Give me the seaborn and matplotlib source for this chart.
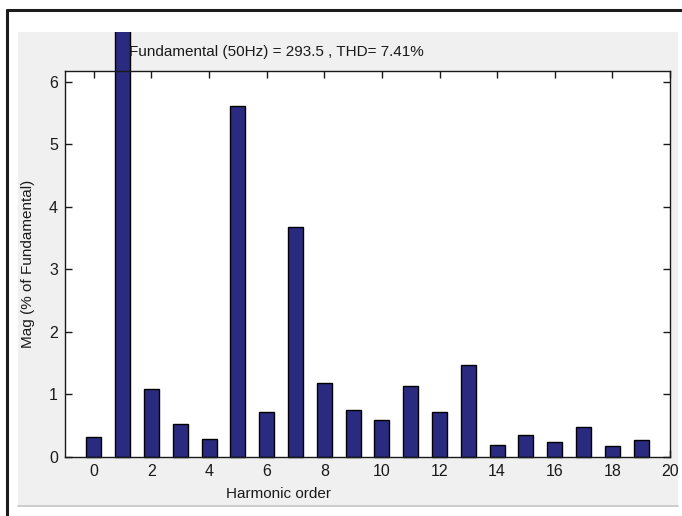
import matplotlib
matplotlib.use("Agg")
import matplotlib.pyplot as plt
from matplotlib.patches import Rectangle
from matplotlib.lines import Line2D
from matplotlib.transforms import Bbox, TransformedBbox
import seaborn as sns
import pandas as pd

# Harmonic spectrum, magnitudes in % of the fundamental
harmonic_order = list(range(20))
magnitude_pct = [0.32, 100.0, 1.08, 0.52, 0.28, 5.61, 0.71, 3.68, 1.18, 0.74,
                 0.58, 1.13, 0.71, 1.46, 0.19, 0.345, 0.24, 0.48, 0.17, 0.26]
fundamental_rms = 293.5
thd_pct = 7.41
x_ticks = list(range(0, 21, 2))
y_ticks = list(range(0, 7))

sns.set_style("white")
plt.rcParams["font.family"] = ["Liberation Sans", "DejaVu Sans"]

W, H = 682, 516
fig = plt.figure(figsize=(W / 100, H / 100), dpi=100)
fig.patch.set_facecolor("white")

def fx(px):
    return px / W

def fy(py):
    return 1 - py / H

# grey figure panel
panel = Rectangle((fx(18), fy(505)), fx(678) - fx(18), fy(32) - fy(505),
                  transform=fig.transFigure, facecolor="#EFF0EF",
                  edgecolor="none", zorder=-10)
fig.add_artist(panel)
fig.add_artist(Line2D([fx(18), fx(678)], [fy(505.5), fy(505.5)],
                      transform=fig.transFigure, color="#C4C4C4", lw=1.2,
                      zorder=-9))
# dark outer frame
fig.add_artist(Line2D([fx(7), fx(7)], [0, fy(10)], transform=fig.transFigure,
                      color="#1C1C1C", lw=2.2, zorder=-9))
fig.add_artist(Line2D([fx(7), 1], [fy(10), fy(10)], transform=fig.transFigure,
                      color="#1C1C1C", lw=2.2, zorder=-9))

ax = fig.add_axes([fx(65), fy(456.7), fx(670) - fx(65), fy(71) - fy(456.7)])
ax.set_zorder(1)
ax.set_facecolor("white")

df = pd.DataFrame({"order": harmonic_order, "mag": magnitude_pct})
sns.barplot(data=df, x="order", y="mag", native_scale=True, width=0.52,
            color="#2A2A80", saturation=1, edgecolor="black", linewidth=1.0,
            ax=ax)

ax.set_xlim(-1, 20)
harmonics_only = [m for o, m in zip(harmonic_order, magnitude_pct) if o != 1]
ax.set_ylim(0, 1.1 * max(harmonics_only))

# bars may rise above the axes, but stay inside the grey panel
clip = TransformedBbox(Bbox([[fx(18), fy(505)], [fx(678), fy(32)]]), fig.transFigure)
for p in ax.patches:
    p.set_clip_on(True)
    p.set_clip_box(clip)

ax.set_xticks(x_ticks)
ax.set_yticks(y_ticks)
ax.tick_params(axis="both", which="both", direction="in", length=5, width=1,
               top=True, right=True, bottom=True, left=True,
               labelsize=11.5, colors="#1A1A1A", pad=5)
for s in ax.spines.values():
    s.set_color("#1A1A1A")
    s.set_linewidth(1.0)
    s.set_visible(True)

ax.set_xlabel("")
ax.set_ylabel("")
fig.text(fx(278), fy(494), "Harmonic order", ha="center", va="center",
         fontsize=11, color="#1A1A1A")
fig.text(fx(28), fy(264), "Mag (% of Fundamental)", ha="center", va="center",
         rotation=90, fontsize=11, color="#1A1A1A")
fig.text(fx(276), fy(52),
         f"Fundamental (50Hz) = {fundamental_rms} , THD= {thd_pct}%",
         ha="center", va="center", fontsize=11, color="#1A1A1A")

fig.savefig("out.png", dpi=100)
